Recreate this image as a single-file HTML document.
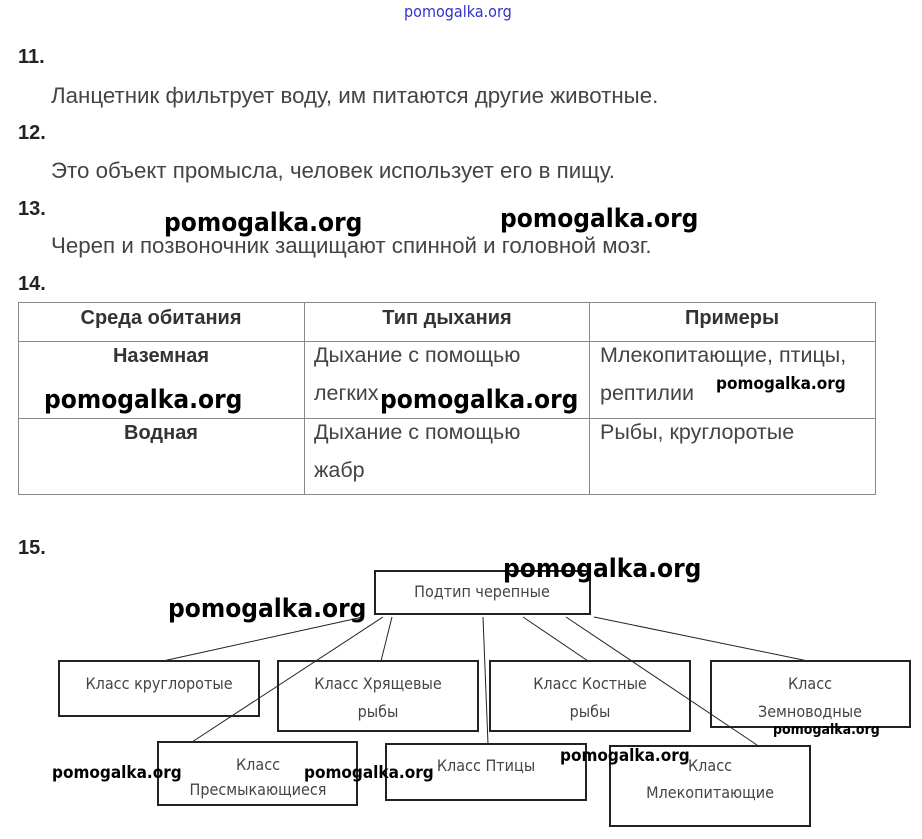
<!DOCTYPE html><html><head><meta charset="utf-8"><style>
body{margin:0;width:922px;height:839px;background:#fff;position:relative;font-family:"Liberation Sans",sans-serif;color:#333;overflow:hidden}
.a{position:absolute;white-space:nowrap;line-height:1}
.n{font-weight:bold;font-size:20px;color:#222}
.t{font-size:21.5px;color:#444}
.t2{font-size:22.3px;color:#444}
.c{text-align:center;transform:translateX(-50%)}
.b{font-weight:bold;color:#333;font-size:20px}
.w{position:absolute;font-weight:bold;color:#000;font-family:"DejaVu Sans Condensed","Liberation Sans",sans-serif;white-space:nowrap}
</style></head><body>
<div class="a" style="left:404px;top:4px;font-size:16px;color:#33c;font-family:'DejaVu Sans Condensed',sans-serif">pomogalka.org</div>
<div class="a n" style="left:18px;top:47px">11.</div>
<div class="a t2" style="left:51px;top:85px">Ланцетник фильтрует воду, им питаются другие животные.</div>
<div class="a n" style="left:18px;top:123px">12.</div>
<div class="a t2" style="left:51px;top:160px">Это объект промысла, человек использует его в пищу.</div>
<div class="a n" style="left:18px;top:199px">13.</div>
<div class="a t2" style="left:51px;top:235px">Череп и позвоночник защищают спинной и головной мозг.</div>
<div class="a n" style="left:18px;top:274px">14.</div>
<svg style="position:absolute;left:0;top:0" width="922" height="520">
<g stroke="#888" stroke-width="1" fill="none">
<rect x="18.5" y="302.5" width="857" height="192"/>
<line x1="18" y1="341.5" x2="876" y2="341.5"/><line x1="18" y1="418.5" x2="876" y2="418.5"/>
<line x1="304.5" y1="302" x2="304.5" y2="495"/><line x1="589.5" y1="302" x2="589.5" y2="495"/>
</g></svg>
<div class="a b c" style="left:161px;top:308px">Среда обитания</div>
<div class="a b c" style="left:447px;top:308px">Тип дыхания</div>
<div class="a b c" style="left:732px;top:308px">Примеры</div>
<div class="a b c" style="left:161px;top:346px">Наземная</div>
<div class="a b c" style="left:161px;top:423px">Водная</div>
<div class="a t" style="left:314px;top:345px">Дыхание с помощью</div>
<div class="a t" style="left:314px;top:383px">легких</div>
<div class="a t" style="left:600px;top:345px">Млекопитающие, птицы,</div>
<div class="a t" style="left:600px;top:383px">рептилии</div>
<div class="a t" style="left:314px;top:422px">Дыхание с помощью</div>
<div class="a t" style="left:314px;top:460px">жабр</div>
<div class="a t" style="left:600px;top:422px">Рыбы, круглоротые</div>
<div class="a n" style="left:18px;top:538px">15.</div>
<svg style="position:absolute;left:0;top:0" width="922" height="839">
<g stroke="#222" stroke-width="2" fill="none">
<rect x="375" y="571" width="215" height="43"/>
<rect x="59" y="661" width="200" height="55"/><rect x="278" y="661" width="200" height="70"/>
<rect x="490" y="661" width="200" height="70"/><rect x="711" y="661" width="199" height="66"/>
<rect x="158" y="742" width="199" height="63"/><rect x="386" y="744" width="200" height="56"/>
<rect x="610" y="746" width="200" height="80"/>
</g>
<g stroke="#222" stroke-width="1" fill="none">
<line x1="363" y1="617" x2="163" y2="661"/><line x1="383" y1="617" x2="192" y2="742"/>
<line x1="392" y1="617" x2="381" y2="661"/><line x1="483" y1="617" x2="488" y2="744"/>
<line x1="523" y1="617" x2="588" y2="661"/><line x1="566" y1="617" x2="757" y2="745"/>
<line x1="594" y1="617" x2="808" y2="661"/>
</g>
<g font-family="DejaVu Sans Condensed, Liberation Sans, sans-serif" font-size="16" fill="#444" text-anchor="middle">
<text x="482" y="597">Подтип черепные</text>
<text x="159" y="689">Класс круглоротые</text>
<text x="378" y="689">Класс Хрящевые</text><text x="378" y="717">рыбы</text>
<text x="590" y="689">Класс Костные</text><text x="590" y="717">рыбы</text>
<text x="810" y="689">Класс</text><text x="810" y="717">Земноводные</text>
<text x="258" y="770">Класс</text><text x="258" y="795">Пресмыкающиеся</text>
<text x="486" y="771">Класс Птицы</text>
<text x="710" y="771">Класс</text><text x="710" y="798">Млекопитающие</text>
</g></svg>
<div class="w" style="left:164px;top:208px;font-size:26px">pomogalka.org</div>
<div class="w" style="left:500px;top:204px;font-size:26px">pomogalka.org</div>
<div class="w" style="left:44px;top:385px;font-size:26px">pomogalka.org</div>
<div class="w" style="left:380px;top:385px;font-size:26px">pomogalka.org</div>
<div class="w" style="left:716px;top:374px;font-size:17px">pomogalka.org</div>
<div class="w" style="left:503px;top:554px;font-size:26px">pomogalka.org</div>
<div class="w" style="left:168px;top:594px;font-size:26px">pomogalka.org</div>
<div class="w" style="left:773px;top:722px;font-size:14px">pomogalka.org</div>
<div class="w" style="left:560px;top:746px;font-size:17px">pomogalka.org</div>
<div class="w" style="left:52px;top:763px;font-size:17px">pomogalka.org</div>
<div class="w" style="left:304px;top:763px;font-size:17px">pomogalka.org</div>
</body></html>
